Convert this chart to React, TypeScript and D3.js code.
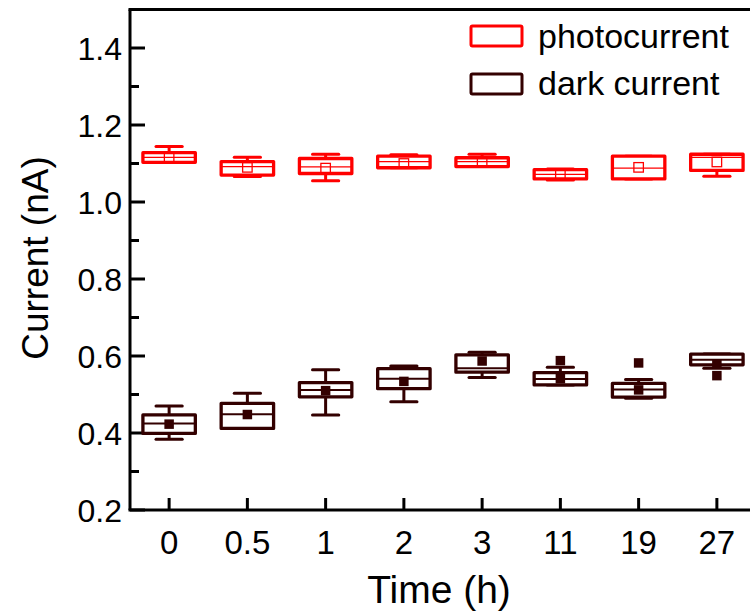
import React from "react";
import * as d3 from "d3";

// Sampling times (h)
const times = ["0", "0.5", "1", "2", "3", "11", "19", "27"];

// Photocurrent statistics per time point (nA)
const photoWhiskerHigh = [1.144, 1.116, 1.124, 1.123, 1.124, 1.086, 1.119, 1.124];
const photoQ3 = [1.128, 1.105, 1.113, 1.119, 1.115, 1.084, 1.119, 1.124];
const photoMedian = [1.116, 1.092, 1.091, 1.105, 1.105, 1.072, 1.088, 1.116];
const photoQ1 = [1.103, 1.070, 1.074, 1.089, 1.092, 1.060, 1.060, 1.082];
const photoWhiskerLow = [1.103, 1.066, 1.055, 1.089, 1.092, 1.057, 1.060, 1.067];
const photoMean = [1.116, 1.090, 1.088, 1.100, 1.104, 1.072, 1.090, 1.104];

// Dark current statistics per time point (nA)
const darkWhiskerHigh = [0.470, 0.503, 0.564, 0.574, 0.610, 0.571, 0.539, 0.605];
const darkQ3 = [0.447, 0.477, 0.531, 0.567, 0.603, 0.557, 0.529, 0.605];
const darkMedian = [0.425, 0.449, 0.512, 0.541, 0.568, 0.540, 0.513, 0.590];
const darkQ1 = [0.399, 0.412, 0.494, 0.515, 0.558, 0.525, 0.493, 0.577];
const darkWhiskerLow = [0.384, 0.412, 0.447, 0.481, 0.544, 0.525, 0.490, 0.568];
const darkMean = [0.423, 0.448, 0.510, 0.534, 0.587, 0.541, 0.512, 0.579];
const darkOutliers: number[][] = [[], [], [], [], [], [0.588], [0.582], [0.549]];

// Axis ticks
const yMajorTicks = [0.2, 0.4, 0.6, 0.8, 1.0, 1.2, 1.4];
const yMinorTicks = [0.3, 0.5, 0.7, 0.9, 1.1, 1.3, 1.5];

const RED = "#ff0000";
const DARK = "#330000";
const FONT = "'Liberation Sans', Arial, sans-serif";

const W = 750;
const H = 615;
const left = 130;
const right = 756;
const top = 9.5;
const bottom = 510;

type Stat = {
  cat: string;
  hi: number;
  q3: number;
  med: number;
  q1: number;
  lo: number;
  mean: number;
  out: number[];
};

function buildStats(
  hi: number[], q3: number[], med: number[], q1: number[], lo: number[], mean: number[], out?: number[][]
): Stat[] {
  return times.map((cat, i) => ({
    cat, hi: hi[i], q3: q3[i], med: med[i], q1: q1[i], lo: lo[i], mean: mean[i], out: out ? out[i] : [],
  }));
}

const photoStats = buildStats(photoWhiskerHigh, photoQ3, photoMedian, photoQ1, photoWhiskerLow, photoMean);
const darkStats = buildStats(darkWhiskerHigh, darkQ3, darkMedian, darkQ1, darkWhiskerLow, darkMean, darkOutliers);

export default function App() {
  const x = d3.scalePoint<string>().domain(times).range([left, right]).padding(0.5);
  const y = d3.scaleLinear().domain([0.2, 1.5]).range([bottom, top]);
  const step = x.step();
  const boxW = step * 0.67;
  const capW = boxW * 0.5;
  const fmt = d3.format(".1f");

  const drawBoxes = (stats: Stat[], color: string, filledMean: boolean, key: string) => (
    <g key={key}>
      {stats.map((s) => {
        const cx = x(s.cat) as number;
        const yq3 = y(s.q3);
        const yq1 = y(s.q1);
        const ms = 9.5;
        return (
          <g key={s.cat}>
            {/* whiskers */}
            <line x1={cx} x2={cx} y1={y(s.hi)} y2={yq3} stroke={color} strokeWidth={3} />
            <line x1={cx} x2={cx} y1={yq1} y2={y(s.lo)} stroke={color} strokeWidth={3} />
            <line x1={cx - capW / 2} x2={cx + capW / 2} y1={y(s.hi)} y2={y(s.hi)}
              stroke={color} strokeWidth={3} strokeLinecap="round" />
            <line x1={cx - capW / 2} x2={cx + capW / 2} y1={y(s.lo)} y2={y(s.lo)}
              stroke={color} strokeWidth={3} strokeLinecap="round" />
            {/* box */}
            <rect x={cx - boxW / 2} y={yq3} width={boxW} height={Math.max(yq1 - yq3, 0.5)}
              fill="#ffffff" stroke={color} strokeWidth={3.3} strokeLinejoin="round" />
            {/* median */}
            <line x1={cx - boxW / 2} x2={cx + boxW / 2} y1={y(s.med)} y2={y(s.med)}
              stroke={color} strokeWidth={filledMean ? 2 : 1.3} />
            {/* mean */}
            {filledMean ? (
              <rect x={cx - ms / 2} y={y(s.mean) - ms / 2} width={ms} height={ms} fill={color} />
            ) : (
              <rect x={cx - ms / 2} y={y(s.mean) - ms / 2} width={ms} height={ms}
                fill="none" stroke={color} strokeWidth={1.3} />
            )}
            {/* outliers */}
            {s.out.map((v, j) => (
              <rect key={j} x={cx - ms / 2} y={y(v) - ms / 2} width={ms} height={ms} fill={color} />
            ))}
          </g>
        );
      })}
    </g>
  );

  return (
    <svg width={W} height={H} style={{ position: "absolute", left: 0, top: 0, background: "#fff" }}
      fontFamily={FONT}>
      {/* y ticks */}
      {yMajorTicks.map((t) => (
        <g key={"M" + t}>
          <line x1={left} x2={left + 15} y1={y(t)} y2={y(t)} stroke="#000" strokeWidth={3} />
          <text x={left - 8} y={y(t)} dy="0.36em" textAnchor="end" fontSize={32} fill="#000">
            {fmt(t)}
          </text>
        </g>
      ))}
      {yMinorTicks.map((t) => (
        <line key={"m" + t} x1={left} x2={left + 9} y1={y(t)} y2={y(t)} stroke="#000" strokeWidth={3} />
      ))}
      {/* x ticks */}
      {times.map((c) => (
        <g key={"x" + c}>
          <line x1={x(c)} x2={x(c)} y1={bottom} y2={bottom - 12} stroke="#000" strokeWidth={3} />
          <text x={x(c)} y={bottom + 44} textAnchor="middle" fontSize={33} fill="#000">{c}</text>
        </g>
      ))}

      {drawBoxes(darkStats, DARK, true, "dark")}
      {drawBoxes(photoStats, RED, false, "photo")}

      {/* frame */}
      <line x1={left} x2={left} y1={top} y2={bottom} stroke="#000" strokeWidth={3} />
      <line x1={left - 1.5} x2={W} y1={bottom} y2={bottom} stroke="#000" strokeWidth={3} />
      <line x1={left - 1.5} x2={W} y1={top} y2={top} stroke="#000" strokeWidth={3} />

      {/* axis titles */}
      <text x={439} y={603} textAnchor="middle" fontSize={39} fill="#000">Time (h)</text>
      <text transform={`translate(48, 258) rotate(-90)`} textAnchor="middle"
        fontSize={37} fill="#000">Current (nA)</text>

      {/* legend */}
      <rect x={471} y={26} width={51} height={20} fill="none" stroke={RED} strokeWidth={3} rx={1.5} />
      <text x={538} y={48} fontSize={34} fill="#000">photocurrent</text>
      <rect x={471} y={74} width={51} height={20} fill="none" stroke={DARK} strokeWidth={3} rx={1.5} />
      <text x={538} y={95} fontSize={34} fill="#000">dark current</text>
    </svg>
  );
}
